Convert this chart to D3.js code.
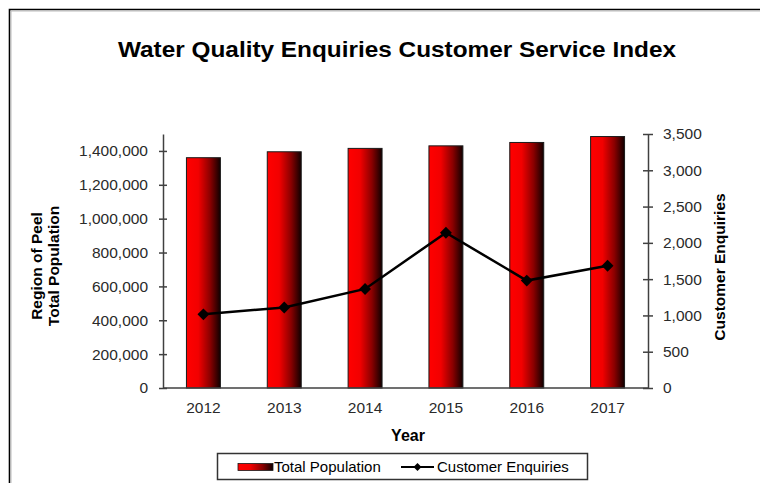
<!DOCTYPE html>
<html>
<head>
<meta charset="utf-8">
<script src="https://cdn.jsdelivr.net/npm/d3@7/dist/d3.min.js"></script>
<style>
  html, body { margin: 0; padding: 0; background: #fff; }
  svg { display: block; font-family: "Liberation Sans", Arial, sans-serif; }
</style>
</head>
<body>
<svg id="chart" width="760" height="483"></svg>
<script>
// Years shown on the category axis
const years = ["2012", "2013", "2014", "2015", "2016", "2017"];
// Region of Peel total population (bars, left axis)
const population = [1360000, 1395000, 1415000, 1430000, 1450000, 1485000];
// Water quality customer enquiries (line, right axis)
const enquiries = [1015, 1110, 1365, 2140, 1480, 1685];
// Axis tick values
const popTicks = [0, 200000, 400000, 600000, 800000, 1000000, 1200000, 1400000];
const enqTicks = [0, 500, 1000, 1500, 2000, 2500, 3000, 3500];

const svg = d3.select("#chart");
const margin = { left: 163, right: 648, top: 134, bottom: 388 };
const axisColor = "#404040";
const labelColor = "#2a2a2a";
const tickFont = 15.5;

// Chart frame (top and left edges)
svg.append("path")
  .attr("d", "M9.5,483 V9.5 H760")
  .attr("fill", "none")
  .attr("stroke", "#000")
  .attr("stroke-width", 1.6);
svg.append("path")
  .attr("d", "M11,483 V11 H760")
  .attr("fill", "none")
  .attr("stroke", "#bbb")
  .attr("stroke-width", 1);

// Title
svg.append("text")
  .attr("x", 397).attr("y", 57)
  .attr("text-anchor", "middle")
  .attr("font-size", 22).attr("font-weight", "bold")
  .attr("textLength", 558).attr("lengthAdjust", "spacingAndGlyphs")
  .attr("fill", "#000")
  .text("Water Quality Enquiries Customer Service Index");

// Scales
const x = d3.scaleBand().domain(years).range([margin.left, margin.right]).paddingInner(0.58).paddingOuter(0.29);
const yL = d3.scaleLinear().domain([0, 1500000]).range([margin.bottom, margin.top]);
const yR = d3.scaleLinear().domain([0, 3500]).range([margin.bottom, margin.top]);

// Bar gradient: bright red fading to black on the right
const defs = svg.append("defs");
const grad = defs.append("linearGradient").attr("id", "barGrad")
  .attr("x1", "0%").attr("x2", "100%").attr("y1", "0%").attr("y2", "0%");
grad.append("stop").attr("offset", "0%").attr("stop-color", "#ff0000");
grad.append("stop").attr("offset", "35%").attr("stop-color", "#f20000");
grad.append("stop").attr("offset", "70%").attr("stop-color", "#8a0000");
grad.append("stop").attr("offset", "100%").attr("stop-color", "#100000");

// Bars
svg.append("g").selectAll("rect")
  .data(years)
  .join("rect")
  .attr("x", d => x(d))
  .attr("y", (d, i) => yL(population[i]))
  .attr("width", x.bandwidth())
  .attr("height", (d, i) => yL(0) - yL(population[i]))
  .attr("fill", "url(#barGrad)")
  .attr("stroke", "#1a1a1a")
  .attr("stroke-width", 1);

// Axes with ticks crossing the axis line
function styleAxis(g) {
  g.select(".domain").attr("stroke", axisColor).attr("stroke-width", 1.5);
  g.selectAll(".tick line").attr("stroke", axisColor).attr("stroke-width", 1.5);
  g.selectAll(".tick text").attr("fill", labelColor).attr("font-size", tickFont)
    .attr("font-family", "'Liberation Sans', Arial, sans-serif");
}

const leftAxis = svg.append("g")
  .attr("transform", `translate(${margin.left},0)`)
  .call(d3.axisLeft(yL).tickValues(popTicks).tickSize(4).tickSizeOuter(0).tickPadding(11)
    .tickFormat(d3.format(",")));
leftAxis.selectAll(".tick line").attr("x2", 4).attr("x1", -4);
styleAxis(leftAxis);

const rightAxis = svg.append("g")
  .attr("transform", `translate(${margin.right},0)`)
  .call(d3.axisRight(yR).tickValues(enqTicks).tickSize(5).tickSizeOuter(0).tickPadding(10)
    .tickFormat(d3.format(",")));
rightAxis.selectAll(".tick line").attr("x1", -5).attr("x2", 5);
styleAxis(rightAxis);

const bottomAxis = svg.append("g")
  .attr("transform", `translate(0,${margin.bottom})`)
  .call(d3.axisBottom(x).tickSize(0).tickPadding(14).tickSizeOuter(0));
styleAxis(bottomAxis);
bottomAxis.select(".domain").attr("d", `M${margin.left},0H${margin.right}`);

// Enquiries line with diamond markers
const cx = d => x(d) + x.bandwidth() / 2;
const line = d3.line().x((d, i) => cx(years[i])).y(d => yR(d));
svg.append("path")
  .datum(enquiries)
  .attr("d", line)
  .attr("fill", "none")
  .attr("stroke", "#000")
  .attr("stroke-width", 2.5);

const diamond = d3.symbol().type(d3.symbolDiamond2).size(90);
svg.append("g").selectAll("path")
  .data(enquiries)
  .join("path")
  .attr("d", diamond)
  .attr("transform", (d, i) => `translate(${cx(years[i])},${yR(d)})`)
  .attr("fill", "#000");

// Axis titles
const titleFont = 15.5;
svg.append("text")
  .attr("transform", "translate(42,266) rotate(-90)")
  .attr("text-anchor", "middle")
  .attr("font-size", titleFont).attr("font-weight", "bold").attr("fill", "#000")
  .text("Region of Peel");
svg.append("text")
  .attr("transform", "translate(59,266) rotate(-90)")
  .attr("text-anchor", "middle")
  .attr("font-size", titleFont).attr("font-weight", "bold").attr("fill", "#000")
  .text("Total Population");
svg.append("text")
  .attr("transform", "translate(725,267) rotate(-90)")
  .attr("text-anchor", "middle")
  .attr("font-size", titleFont).attr("font-weight", "bold").attr("fill", "#000")
  .text("Customer Enquiries");
svg.append("text")
  .attr("x", 408).attr("y", 441)
  .attr("text-anchor", "middle")
  .attr("font-size", 16).attr("font-weight", "bold").attr("fill", "#000")
  .text("Year");

// Legend
const legend = svg.append("g");
legend.append("rect")
  .attr("x", 217.5).attr("y", 453.5).attr("width", 370).attr("height", 26)
  .attr("fill", "#fff").attr("stroke", "#333").attr("stroke-width", 1.5);
legend.append("rect")
  .attr("x", 238).attr("y", 463.5).attr("width", 35).attr("height", 7)
  .attr("fill", "url(#barGrad)").attr("stroke", "#1a1a1a").attr("stroke-width", 0.8);
legend.append("text")
  .attr("x", 274).attr("y", 472)
  .attr("font-size", 15).attr("fill", "#000")
  .text("Total Population");
legend.append("line")
  .attr("x1", 401).attr("x2", 434).attr("y1", 467).attr("y2", 467)
  .attr("stroke", "#000").attr("stroke-width", 2);
legend.append("path")
  .attr("d", d3.symbol().type(d3.symbolDiamond2).size(40))
  .attr("transform", "translate(417.5,467)")
  .attr("fill", "#000");
legend.append("text")
  .attr("x", 437).attr("y", 472)
  .attr("font-size", 15).attr("fill", "#000")
  .text("Customer Enquiries");
</script>
</body>
</html>
